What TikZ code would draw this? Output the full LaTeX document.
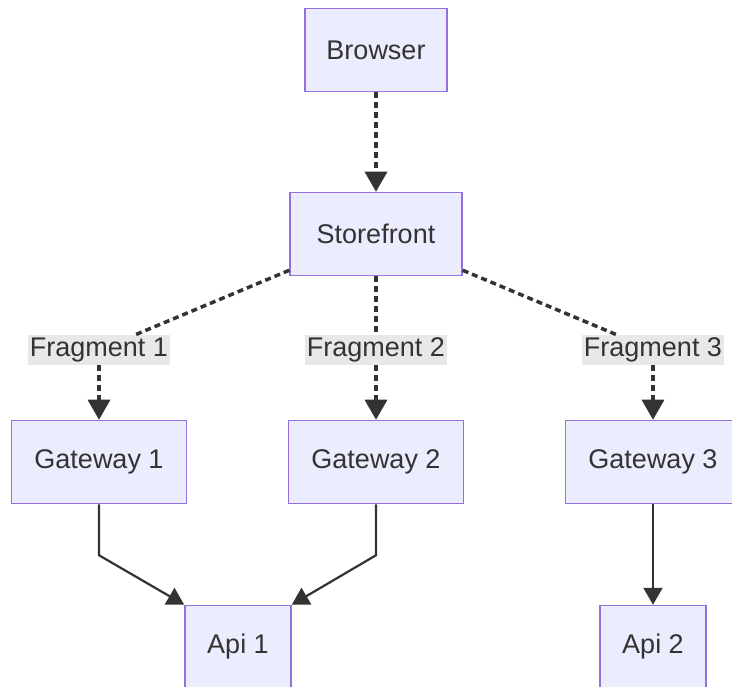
\documentclass[tikz,border=0pt]{standalone}
\usepackage{fontspec}
\setmainfont{Liberation Sans}
\usepackage{tikz}
\usetikzlibrary{arrows.meta,positioning}
\definecolor{boxfill}{HTML}{ECECFF}
\definecolor{boxline}{HTML}{9370DB}
\definecolor{ink}{HTML}{333333}
\definecolor{lblfill}{HTML}{E8E8E8}

\begin{document}
\begin{tikzpicture} [
  x = 1pt, y = -1pt,
  font = \fontsize{27}{32}\selectfont,
  text = ink,
  box/.style = { draw = boxline, line width = 1.5pt, fill = boxfill, minimum height = 83pt, inner sep = 0 },
  lbl/.style = { fill = lblfill, minimum height = 30pt, minimum width = 142pt, inner sep = 0 },
  dots/.style = { draw = ink, line width = 3.5pt, dash pattern = on 6pt off 4pt },
  flow/.style = { dots, -{Triangle[length=20pt,width=22pt]} },
  link/.style = { draw = ink, line width = 2.2pt, -{Triangle[length=17pt,width=19pt]} }
  ]
  \useasboundingbox (0,0) rectangle (732,687);
  \clip (0,0) rectangle (732,687);

  \node[box, minimum width = 142pt] (browser) at (376,50) {Browser};
  \node[box, minimum width = 172pt] (store) at (376,234) {Storefront};
  \node[lbl] (frag1) at (99,350) {Fragment 1};
  \node[lbl] (frag2) at (376,350) {Fragment 2};
  \node[lbl] (frag3) at (653,350) {Fragment 3};
  \node[box, minimum width = 175pt] (gw1) at (99,462) {Gateway 1};
  \node[box, minimum width = 175pt] (gw2) at (376,462) {Gateway 2};
  \node[box, minimum width = 175pt] (gw3) at (653,462) {Gateway 3};
  \node[box, minimum width = 106pt] (api1) at (238,647) {Api 1};
  \node[box, minimum width = 106pt] (api2) at (653,647) {Api 2};

  \draw[flow] (browser) -- (store);
  \draw[dots] (store) -- (frag1);
  \draw[dots] (store) -- (frag2);
  \draw[dots] (store) -- (frag3);
  \draw[flow] (frag1) -- (gw1);
  \draw[flow] (frag2) -- (gw2);
  \draw[flow] (frag3) -- (gw3);
  \draw[link] (gw1.south) -- ++(0,51) -- (api1.north west);
  \draw[link] (gw2.south) -- ++(0,51) -- (api1.north east);
  \draw[link] (gw3) -- (api2);
\end{tikzpicture}
\end{document}
